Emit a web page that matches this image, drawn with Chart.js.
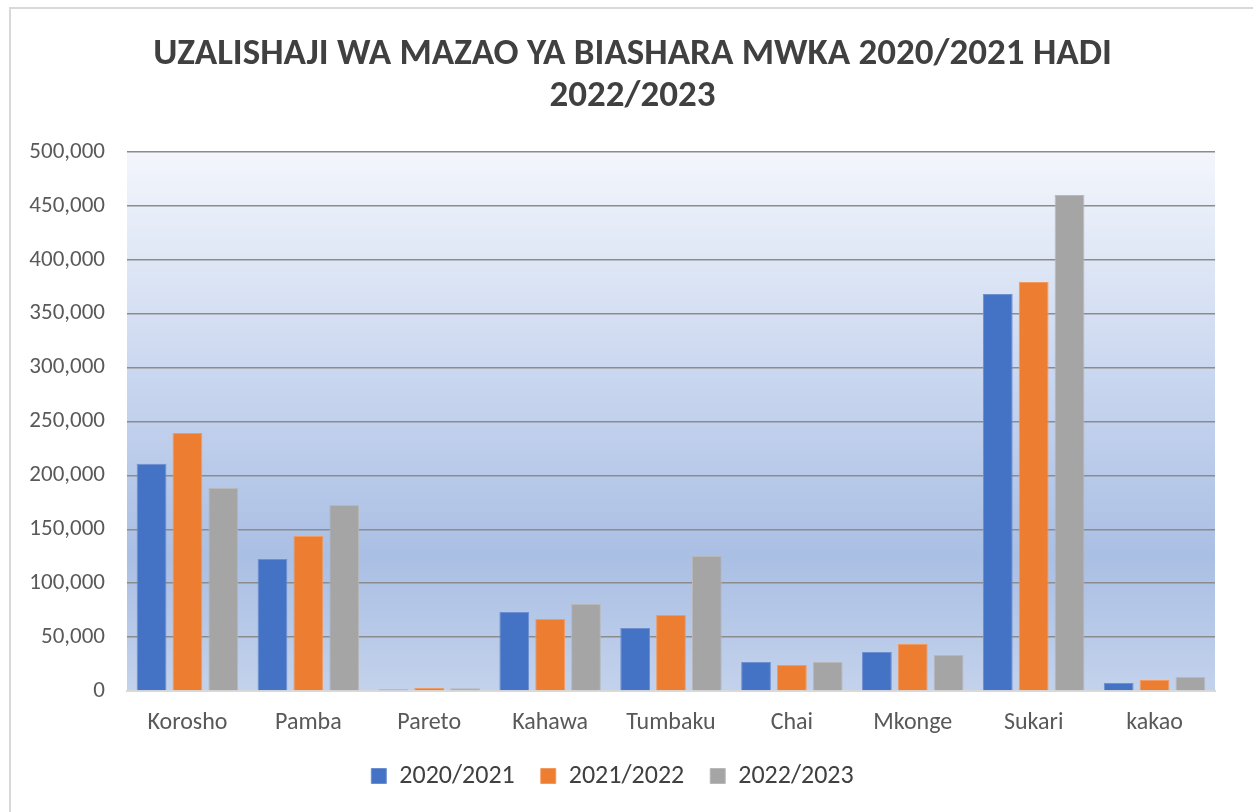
<!DOCTYPE html>
<html>
<head>
<meta charset="utf-8">
<script src="https://cdn.jsdelivr.net/npm/chart.js@4.4.0/dist/chart.umd.min.js"></script>
<style>
  html, body { margin: 0; padding: 0; background: #fff; }
  .frame {
    position: absolute; left: 9px; top: 7px; width: 1260px; height: 820px;
    border-left: 2px solid #d9d9d9; border-top: 2px solid #d9d9d9;
  }
  .wrap { position: absolute; left: 0; top: 0; width: 1253px; height: 812px; }
</style>
</head>
<body>
<div class="frame"></div>
<div class="wrap"><canvas id="chart"></canvas></div>
<script>
// crops and yearly production (tonnes)
const crops = ['Korosho', 'Pamba', 'Pareto', 'Kahawa', 'Tumbaku', 'Chai', 'Mkonge', 'Sukari', 'kakao'];
const seasons = ['2020/2021', '2021/2022', '2022/2023'];
const prod2021 = [210700, 122400, 1500, 73300, 58400, 26900, 36200, 368300, 7400];
const prod2122 = [239300, 143800, 2800, 66800, 70500, 24100, 43600, 379400, 10200];
const prod2223 = [188300, 172500, 2600, 80700, 125200, 26900, 33400, 460100, 13000];
const yTicks = [0, 50000, 100000, 150000, 200000, 250000, 300000, 350000, 400000, 450000, 500000];

const colors = ['#4472c4', '#ed7d31', '#a5a5a5'];
const borders = ['#6d8fd0', '#f29a5e', '#b8b8b8'];

const font = "Calibri, Carlito, 'Open Sans', sans-serif";

// plot area gradient, Excel style
const plotBg = {
  id: 'plotBg',
  afterLayout(chart) {
    // Excel centres the title a bit right of the canvas middle
    if (chart.titleBlock) chart.titleBlock.left += 40;
  },
  beforeDraw(chart) {
    const { ctx, chartArea: a } = chart;
    const g = ctx.createLinearGradient(0, a.top, 0, a.bottom);
    g.addColorStop(0, '#f3f6fc');
    g.addColorStop(0.45, '#c6d4ee');
    g.addColorStop(0.75, '#aabfe4');
    g.addColorStop(1, '#c3d2ec');
    ctx.save();
    ctx.fillStyle = g;
    ctx.fillRect(a.left, a.top, a.right - a.left, a.bottom - a.top);
    ctx.restore();
  }
};

const series = [prod2021, prod2122, prod2223];

new Chart(document.getElementById('chart'), {
  type: 'bar',
  data: {
    labels: crops,
    datasets: series.map((d, i) => ({
      label: seasons[i],
      data: d,
      backgroundColor: colors[i],
      borderColor: borders[i],
      borderWidth: 1,
      barPercentage: 0.83,
      categoryPercentage: 0.89,
    })),
  },
  options: {
    responsive: true,
    maintainAspectRatio: false,
    animation: false,
    layout: { padding: { left: 10, right: 38, top: 14, bottom: 13 } },
    plugins: {
      title: {
        display: true,
        text: ['UZALISHAJI WA MAZAO YA BIASHARA MWKA 2020/2021 HADI', '2022/2023'],
        color: '#404040',
        font: { family: font, size: 37, weight: 'bold', lineHeight: 1.135 },
        padding: { top: 20, bottom: 34 },
      },
      legend: {
        position: 'bottom',
        labels: {
          color: '#404040',
          font: { family: font, size: 26 },
          boxWidth: 15,
          boxHeight: 15,
          padding: 26,
        },
      },
      tooltip: { enabled: false },
    },
    scales: {
      x: {
        grid: { display: false, drawTicks: false },
        border: { color: '#d9d9d9', width: 2 },
        ticks: { color: '#595959', font: { family: font, size: 24 }, padding: 18 },
        afterFit: (s) => { s.height = 46; },
      },
      y: {
        min: 0,
        max: 500000,
        afterBuildTicks: (s) => { s.ticks = yTicks.map(v => ({ value: v })); },
        grid: { color: '#8c8c8c', lineWidth: 1.5, drawTicks: false },
        border: { display: false },
        ticks: {
          color: '#595959',
          font: { family: font, size: 23 },
          padding: 22,
          callback: (v) => v.toLocaleString('en-US'),
        },
        afterFit: (s) => { s.width = 117; },
      },
    },
  },
  plugins: [plotBg],
});
</script>
</body>
</html>
